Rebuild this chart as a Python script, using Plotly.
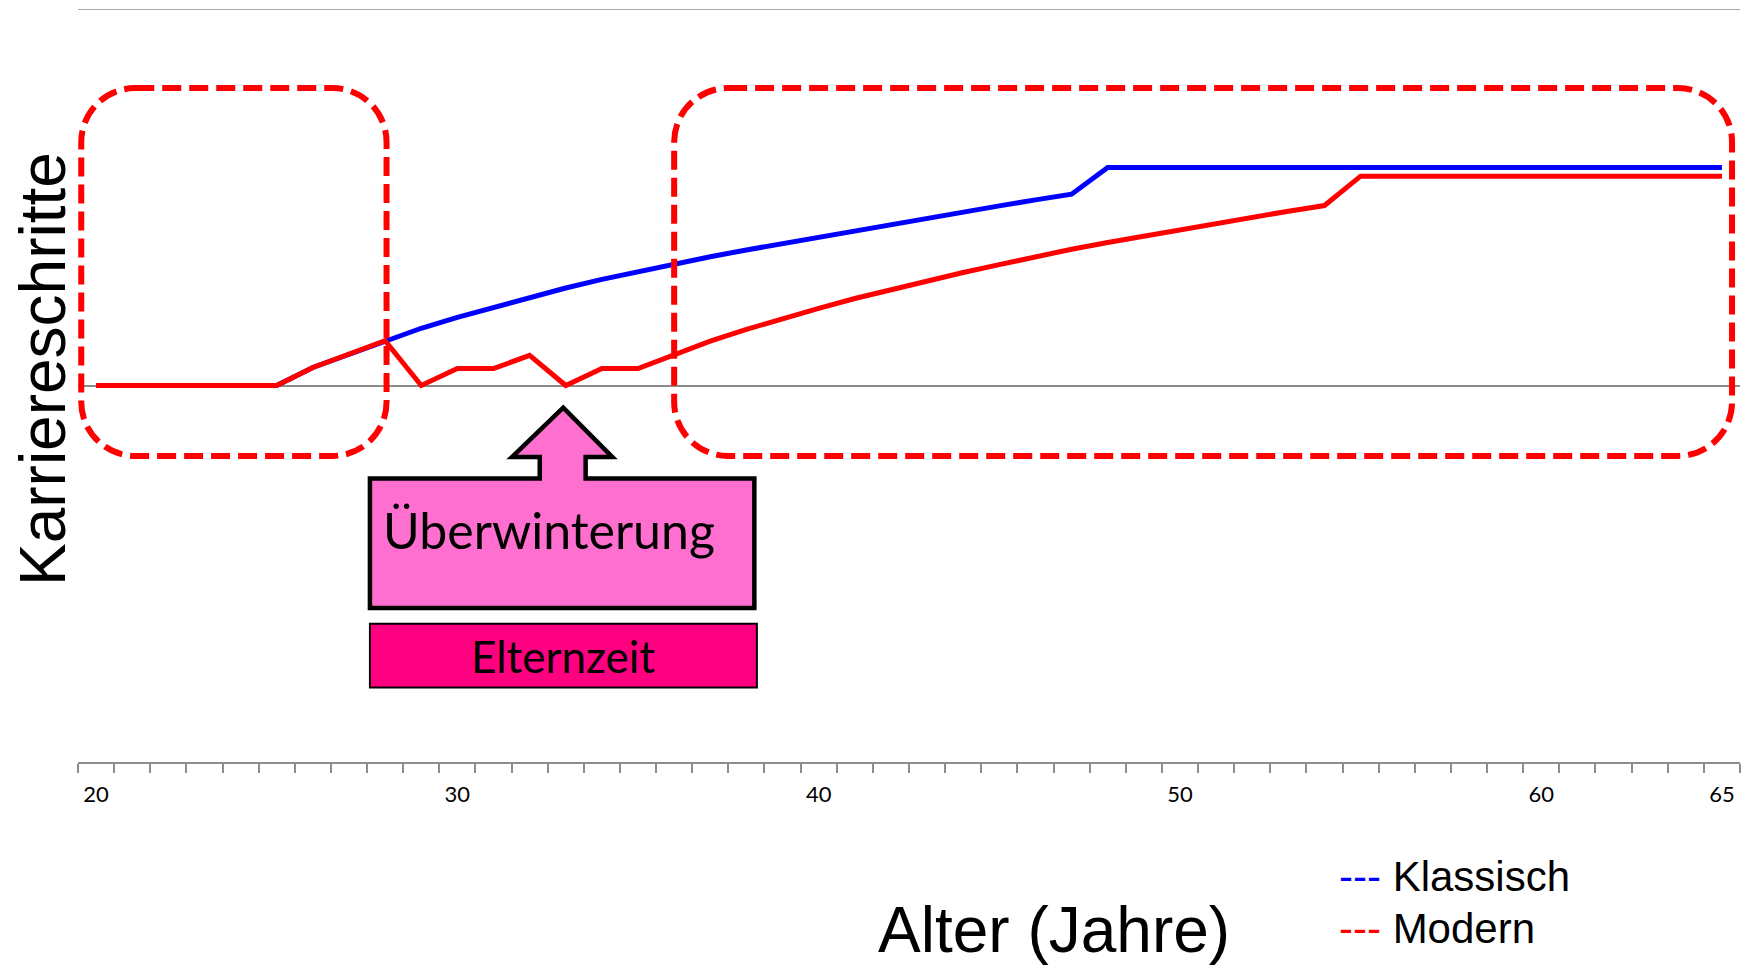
import plotly.graph_objects as go

# ---------------- data ----------------
ages = list(range(20, 66))
klassisch = [0, 0, 0, 0, 0, 0, 0.048, 0.083, 0.119, 0.152,
             0.181, 0.208, 0.235, 0.259, 0.282, 0.303, 0.324, 0.342, 0.360, 0.377,
             0.395, 0.412, 0.429, 0.445, 0.461, 0.477, 0.493, 0.508, 0.579, 0.579,
             0.579, 0.579, 0.579, 0.579, 0.579, 0.579, 0.579, 0.579, 0.579, 0.579,
             0.579, 0.579, 0.579, 0.579, 0.579, 0.579]
modern = [0, 0, 0, 0, 0, 0, 0.048, 0.083, 0.119, 0,
          0.045, 0.045, 0.080, 0, 0.045, 0.045, 0.083, 0.118, 0.149, 0.178,
          0.205, 0.231, 0.255, 0.278, 0.300, 0.321, 0.342, 0.362, 0.380, 0.397,
          0.414, 0.431, 0.447, 0.463, 0.478, 0.556, 0.556, 0.556, 0.556, 0.556,
          0.556, 0.556, 0.556, 0.556, 0.556, 0.556]
tick_vals = [20, 30, 40, 50, 60, 65]
tick_text = ["20", "30", "40", "50", "60", "65"]
series_names = ["Klassisch", "Modern"]

# ---------------- layout constants ----------------
OFF = 8                      # browser body margin
W, H = 1754 - OFF, 967 - OFF
L, R, T, B = 70, 13.5, 1, 205
X_RANGE = [19.5, 65.5]
Y_RANGE = [-1.0, 1.0]
PW, PH = W - L - R, H - T - B
XU = (X_RANGE[1] - X_RANGE[0]) / PW   # data units per px
YU = (Y_RANGE[1] - Y_RANGE[0]) / PH

GRAY = "#8c8c8c"
BLUE = "#0000FF"
RED = "#FF0000"


def px_to_paper(px, py):
    """window pixel -> paper coords"""
    return (px - OFF - L) / PW, (H - B - (py - OFF)) / PH


def rounded_rect(x0, x1, y0, y1, rpx):
    rx, ry = rpx * XU, rpx * YU
    k = 0.5523
    p = []
    p.append(f"M {x0 + rx},{y1}")
    p.append(f"L {x1 - rx},{y1}")
    p.append(f"C {x1 - rx + k * rx},{y1} {x1},{y1 - ry + k * ry} {x1},{y1 - ry}")
    p.append(f"L {x1},{y0 + ry}")
    p.append(f"C {x1},{y0 + ry - k * ry} {x1 - rx + k * rx},{y0} {x1 - rx},{y0}")
    p.append(f"L {x0 + rx},{y0}")
    p.append(f"C {x0 + rx - k * rx},{y0} {x0},{y0 + ry - k * ry} {x0},{y0 + ry}")
    p.append(f"L {x0},{y1 - ry}")
    p.append(f"C {x0},{y1 - ry + k * ry} {x0 + rx - k * rx},{y1} {x0 + rx},{y1}")
    p.append("Z")
    return " ".join(p)


fig = go.Figure()
fig.add_trace(go.Scatter(x=ages, y=klassisch, mode="lines", name=series_names[0],
                         line=dict(color=BLUE, width=5)))
fig.add_trace(go.Scatter(x=ages, y=modern, mode="lines", name=series_names[1],
                         line=dict(color=RED, width=5)))

shapes = []
# top gridline (value 1)
shapes.append(dict(type="line", xref="paper", yref="y", x0=0, x1=1, y0=1, y1=1,
                   line=dict(color=GRAY, width=1.5), layer="below"))
# dashed rounded boxes
for (bx0, bx1) in [(19.59, 28.04), (36.0, 65.28)]:
    shapes.append(dict(type="path", xref="x", yref="y",
                       path=rounded_rect(bx0, bx1, -0.187, 0.790, 54),
                       line=dict(color=RED, width=6, dash="19px,8px"),
                       fillcolor="rgba(0,0,0,0)", layer="above"))

# pink arrow callout
callout = [(27.58, -0.591), (27.58, -0.247), (32.28, -0.247), (32.28, -0.190),
           (31.51, -0.190), (32.93, -0.059), (34.29, -0.190), (33.55, -0.190),
           (33.55, -0.247), (38.22, -0.247), (38.22, -0.591)]
cpath = "M " + " L ".join(f"{x},{y}" for x, y in callout) + " Z"
shapes.append(dict(type="path", xref="x", yref="y", path=cpath,
                   fillcolor="#FF6FCF", line=dict(color="black", width=4.5),
                   layer="above"))
# Elternzeit box
shapes.append(dict(type="rect", xref="x", yref="y", x0=27.58, x1=38.29,
                   y0=-0.802, y1=-0.633, fillcolor="#FF0080",
                   line=dict(color="black", width=2), layer="above"))

kx, ky = px_to_paper(43, 369)
ax_, ay_ = px_to_paper(1054, 930)
lx, l1y = px_to_paper(1337, 876)
_, l2y = px_to_paper(1337, 928)

annotations = [
    dict(text="Überwinterung", x=27.89, y=-0.383, xref="x", yref="y",
         xanchor="left", yanchor="middle", showarrow=False,
         font=dict(family="Lato", size=50, color="black")),
    dict(text="Elternzeit", x=32.93, y=-0.719, xref="x", yref="y",
         xanchor="center", yanchor="middle", showarrow=False,
         font=dict(family="Lato", size=44, color="black")),
    dict(text="Karriereschritte", x=kx, y=ky,
         xref="paper", yref="paper", textangle=-90, showarrow=False,
         xanchor="center", yanchor="middle",
         font=dict(family="Liberation Sans", size=64, color="black")),
    dict(text="Alter (Jahre)", x=ax_, y=ay_,
         xref="paper", yref="paper", showarrow=False,
         xanchor="center", yanchor="middle",
         font=dict(family="Liberation Sans", size=64, color="black")),
    dict(text=f"<span style='color:{BLUE}'>---</span> {series_names[0]}",
         x=lx, y=l1y, xref="paper", yref="paper", showarrow=False,
         xanchor="left", yanchor="middle",
         font=dict(family="Liberation Sans", size=42, color="black")),
    dict(text=f"<span style='color:{RED}'>---</span> {series_names[1]}",
         x=lx, y=l2y, xref="paper", yref="paper", showarrow=False,
         xanchor="left", yanchor="middle",
         font=dict(family="Liberation Sans", size=42, color="black")),
]

fig.update_layout(
    width=W, height=H,
    margin=dict(l=L, r=R, t=T, b=B, pad=0),
    paper_bgcolor="white", plot_bgcolor="white",
    showlegend=False,
    shapes=shapes, annotations=annotations,
    xaxis=dict(range=X_RANGE, tickmode="array", tickvals=tick_vals, ticktext=tick_text,
               ticks="outside", ticklen=12, tickcolor="rgba(0,0,0,0)",
               tickfont=dict(family="Lato", size=22, color="black"),
               showline=True, linecolor=GRAY, linewidth=2, showgrid=False,
               zeroline=False,
               minor=dict(tickvals=[19.5 + i for i in range(47)], ticks="outside",
                          ticklen=9, tickcolor=GRAY, tickwidth=1.5, showgrid=False)),
    yaxis=dict(range=Y_RANGE, tickmode="array", tickvals=[0], showticklabels=False,
               ticks="", showgrid=True, gridcolor=GRAY, gridwidth=1.5,
               zeroline=False, showline=False),
)

fig.write_html("out.html")
